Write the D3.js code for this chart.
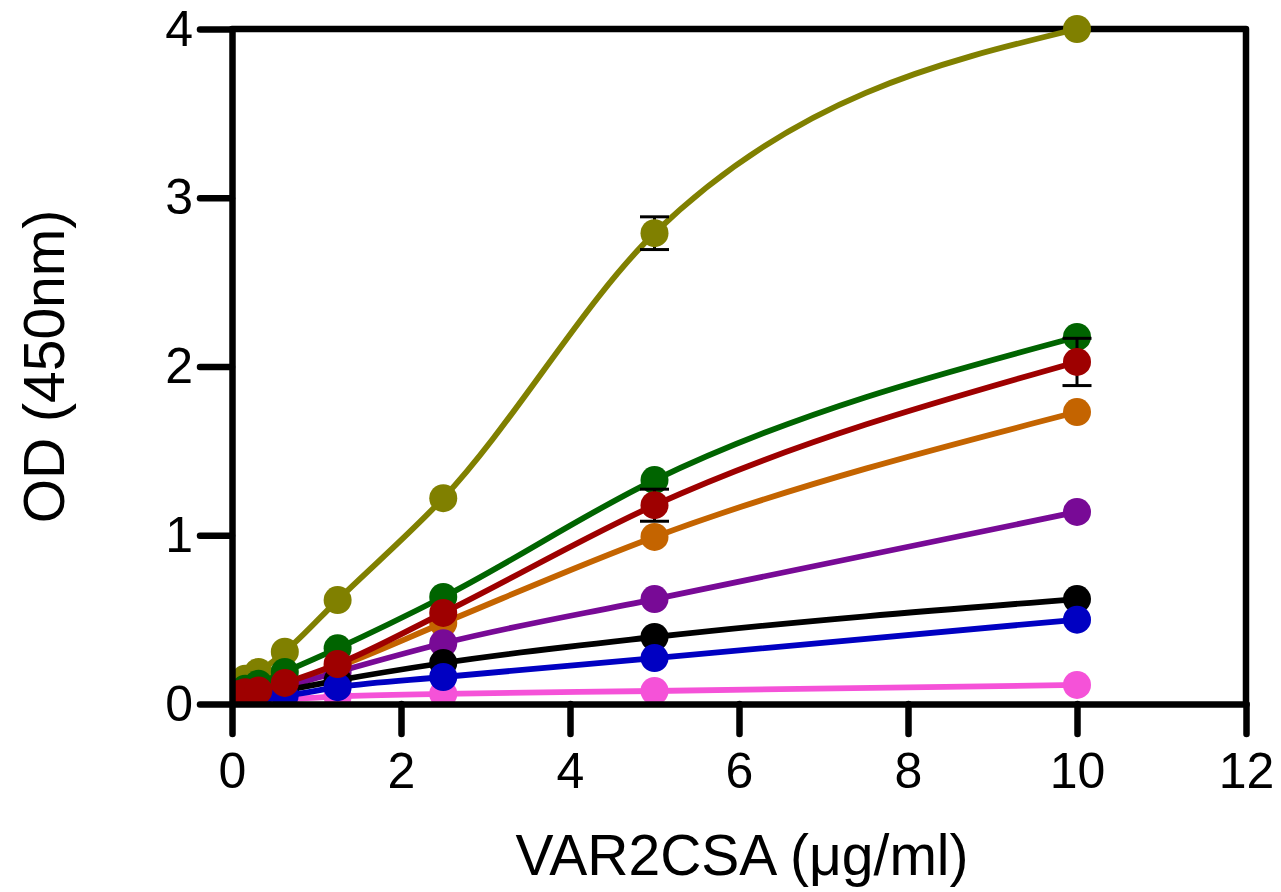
<!DOCTYPE html>
<html>
<head>
<meta charset="utf-8">
<script src="https://cdn.jsdelivr.net/npm/d3@7"></script>
<style>
  html, body { margin: 0; padding: 0; background: #fff; }
  svg { display: block; font-family: "Liberation Sans", Arial, sans-serif; }
</style>
</head>
<body>
<svg id="chart" width="1281" height="892"></svg>
<script>
(function(){

const WIDTH = 1281, HEIGHT = 892;
const margin = {top: 29, right: 35, bottom: 188, left: 232};

// concentrations (ug/ml)
const conc = [0.078, 0.156, 0.3125, 0.625, 1.25, 2.5, 5, 10];

// OD values per series
const olive  = [0.12, 0.15, 0.19, 0.31, 0.616, 1.22, 2.79, 4.0];
const green  = [0.07, 0.09, 0.12, 0.19, 0.33, 0.634, 1.327, 2.175];
const red    = [0.06, 0.07, 0.08, 0.125, 0.237, 0.54, 1.178, 2.027];
const orange = [0.05, 0.06, 0.07, 0.11, 0.22, 0.48, 0.99, 1.73];
const purple = [0.05, 0.05, 0.06, 0.10, 0.19, 0.36, 0.622, 1.138];
const black  = [0.04, 0.05, 0.05, 0.08, 0.14, 0.243, 0.397, 0.622];
const blue   = [0.03, 0.04, 0.04, 0.05, 0.10, 0.16, 0.272, 0.50];
const pink   = [0.02, 0.02, 0.03, 0.03, 0.045, 0.06, 0.077, 0.113];

// error bars (+/-) where visible, null otherwise
const oliveErr = [null, null, null, null, null, null, 0.097, null];
const redErr   = [null, null, null, null, null, null, 0.095, 0.14];

const xTicks = [0, 2, 4, 6, 8, 10, 12];
const yTicks = [0, 1, 2, 3, 4];

// drawing order: later ones sit on top
const series = [
  {name: 'pink',   values: pink,   color: '#f552d8'},
  {name: 'olive',  values: olive,  color: '#808000', err: oliveErr},
  {name: 'green',  values: green,  color: '#006400'},
  {name: 'orange', values: orange, color: '#c46400'},
  {name: 'purple', values: purple, color: '#780a96'},
  {name: 'black',  values: black,  color: '#000000'},
  {name: 'blue',   values: blue,   color: '#0000c2'},
  {name: 'red',    values: red,    color: '#9e0000', err: redErr}
];

const x = d3.scaleLinear().domain([0, 12]).range([margin.left, WIDTH - margin.right]);
const y = d3.scaleLinear().domain([0, 4]).range([HEIGHT - margin.bottom, margin.top]);

const svg = d3.select('#chart');

svg.append('defs').append('clipPath').attr('id', 'plot-clip')
  .append('rect')
  .attr('x', x(0)).attr('y', 0)
  .attr('width', WIDTH - x(0)).attr('height', y(0));

// top and right frame
const AX_W = 6.5;
svg.append('path')
  .attr('d', `M${x(0)},${y(4)}H${x(12)}V${y(0)}`)
  .attr('fill', 'none').attr('stroke', '#000')
  .attr('stroke-width', AX_W).attr('stroke-linecap', 'round').attr('stroke-linejoin', 'round');

const line = d3.line()
  .x((d, i) => x(conc[i]))
  .y(d => y(d))
  .curve(d3.curveMonotoneX);

const plot = svg.append('g').attr('clip-path', 'url(#plot-clip)');

series.forEach(s => {
  const g = plot.append('g').attr('class', 'series ' + s.name);
  g.append('path')
    .attr('d', line(s.values))
    .attr('fill', 'none')
    .attr('stroke', s.color)
    .attr('stroke-width', 5.8);

  if(s.err){
    const eb = s.values.map((v, i) => ({v, e: s.err[i], c: conc[i]})).filter(d => d.e != null);
    const eg = g.append('g').attr('stroke', '#000').attr('stroke-width', 3);
    eg.selectAll('line.stem').data(eb).join('line')
      .attr('class', 'stem')
      .attr('x1', d => x(d.c)).attr('x2', d => x(d.c))
      .attr('y1', d => y(d.v + d.e)).attr('y2', d => y(d.v - d.e));
    eg.selectAll('line.cap-hi').data(eb).join('line')
      .attr('class', 'cap-hi')
      .attr('x1', d => x(d.c) - 14.5).attr('x2', d => x(d.c) + 14.5)
      .attr('y1', d => y(d.v + d.e)).attr('y2', d => y(d.v + d.e));
    eg.selectAll('line.cap-lo').data(eb).join('line')
      .attr('class', 'cap-lo')
      .attr('x1', d => x(d.c) - 14.5).attr('x2', d => x(d.c) + 14.5)
      .attr('y1', d => y(d.v - d.e)).attr('y2', d => y(d.v - d.e));
  }

  g.selectAll('circle').data(s.values).join('circle')
    .attr('cx', (d, i) => x(conc[i]))
    .attr('cy', d => y(d))
    .attr('r', 14)
    .attr('fill', s.color);
});

// axes
function styleAxis(g){
  g.select('.domain').attr('stroke-width', AX_W).attr('stroke-linecap', 'round');
  g.selectAll('.tick line').attr('stroke-width', AX_W).attr('stroke-linecap', 'round');
  g.selectAll('.tick text').attr('font-size', 50).attr('fill', '#000')
    .attr('font-family', '"Liberation Sans", Arial, sans-serif');
}

svg.append('g')
  .attr('transform', `translate(0,${y(0)})`)
  .call(d3.axisBottom(x).tickValues(xTicks).tickFormat(d3.format('d')).tickSize(30).tickSizeOuter(0).tickPadding(18))
  .call(styleAxis);

svg.append('g')
  .attr('transform', `translate(${x(0)},0)`)
  .call(d3.axisLeft(y).tickValues(yTicks).tickFormat(d3.format('d')).tickSize(32).tickSizeOuter(0).tickPadding(7))
  .call(styleAxis);

// axis titles
svg.append('text')
  .attr('x', (x(0) + x(12)) / 2 + 3)
  .attr('y', 875)
  .attr('text-anchor', 'middle')
  .attr('font-size', 57)
  .text('VAR2CSA (\u03bcg/ml)');

svg.append('text')
  .attr('transform', `translate(64,${(y(0) + y(4)) / 2}) rotate(-90)`)
  .attr('text-anchor', 'middle')
  .attr('font-size', 57)
  .text('OD (450nm)');

})();
</script>
</body>
</html>
